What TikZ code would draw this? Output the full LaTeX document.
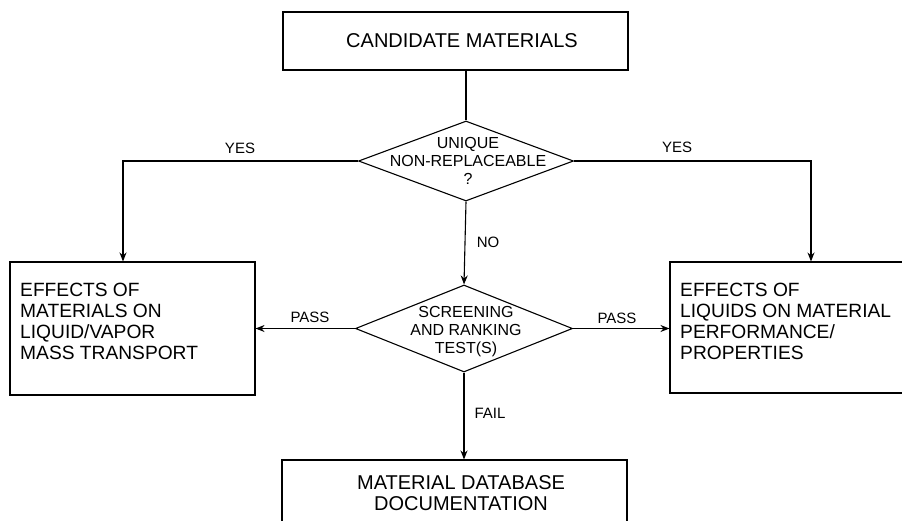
\documentclass[tikz,border=0pt]{standalone}
\usepackage{fontspec}
\setmainfont{Liberation Sans}
\usetikzlibrary{shapes.geometric,arrows.meta}
\tikzset{
  boxshape/.style={draw, line width=1.1pt, inner sep=0pt},
  dia/.style={draw, diamond, line width=1.1pt, inner sep=0pt},
  boxtext/.style={align=left, anchor=west, inner sep=0pt, font=\fontsize{19.2}{21}\selectfont},
  ctext/.style={align=center, inner sep=0pt, font=\fontsize{20}{20.5}\selectfont},
  dtext/.style={align=center, inner sep=0pt, font=\fontsize{16}{18}\selectfont},
  lbl/.style={inner sep=0pt, font=\fontsize{15}{16}\selectfont},
  conn/.style={line width=1.1pt},
  arr/.style={line width=1.1pt, -{Stealth[length=9pt,width=7pt]}}
}
\begin{document}
\begin{tikzpicture}[x=1pt,y=-1pt]
\clip (0,0) rectangle (902,520);
\fill[white] (0,0) rectangle (902,520);
% boxes
\node[boxshape, minimum width=345pt, minimum height=58pt] (tbox) at (455.5,41) {};
\node[ctext] (ttxt) at (462,41) {CANDIDATE MATERIALS};
\node[boxshape, minimum width=245pt, minimum height=133pt] (lbox) at (132.5,328.5) {};
\node[boxtext] (ltxt) at (20,321) {EFFECTS OF\\MATERIALS ON\\LIQUID/VAPOR\\MASS TRANSPORT};
\node[boxshape, minimum width=250pt, minimum height=131pt] (rbox) at (795,327.5) {};
\node[boxtext] (rtxt) at (680,321) {EFFECTS OF\\LIQUIDS ON MATERIAL\\PERFORMANCE/\\PROPERTIES};
\node[boxshape, minimum width=345pt, minimum height=100pt] (bbox) at (454.5,510) {};
\node[ctext] (btxt) at (461,493) {MATERIAL DATABASE\\DOCUMENTATION};
% diamonds
\node[dia, minimum width=215pt, minimum height=80pt] (d1) at (466,161) {};
\node[dtext] (d1t) at (468,161) {UNIQUE\\NON-REPLACEABLE\\?};
\node[dia, minimum width=217pt, minimum height=87pt] (d2) at (464,328.5) {};
\node[dtext] (d2t) at (466,332) {SCREENING\\AND RANKING\\TEST(S)};
% connectors
\draw[conn] (d1.north |- tbox.south) -- (d1.north);
\draw[arr] (d1.west) -| ([xshift=-9.5pt]lbox.north);
\draw[arr] (d1.east) -| ([xshift=16pt]rbox.north);
\draw[arr] (d1.south) -- (d2.north);
\draw[arr] (d2.west) -- (d2.west -| lbox.east);
\draw[arr] (d2.east) -- (d2.east -| rbox.west);
\draw[arr] (d2.south) -- (d2.south |- bbox.north);
% labels
\node[lbl] (yesl) at (240,148) {YES};
\node[lbl] (yesr) at (677,147) {YES};
\node[lbl] (no) at (488,242) {NO};
\node[lbl] (passl) at (310,317) {PASS};
\node[lbl] (passr) at (617,318) {PASS};
\node[lbl] (fail) at (490,413) {FAIL};
\end{tikzpicture}
\end{document}
